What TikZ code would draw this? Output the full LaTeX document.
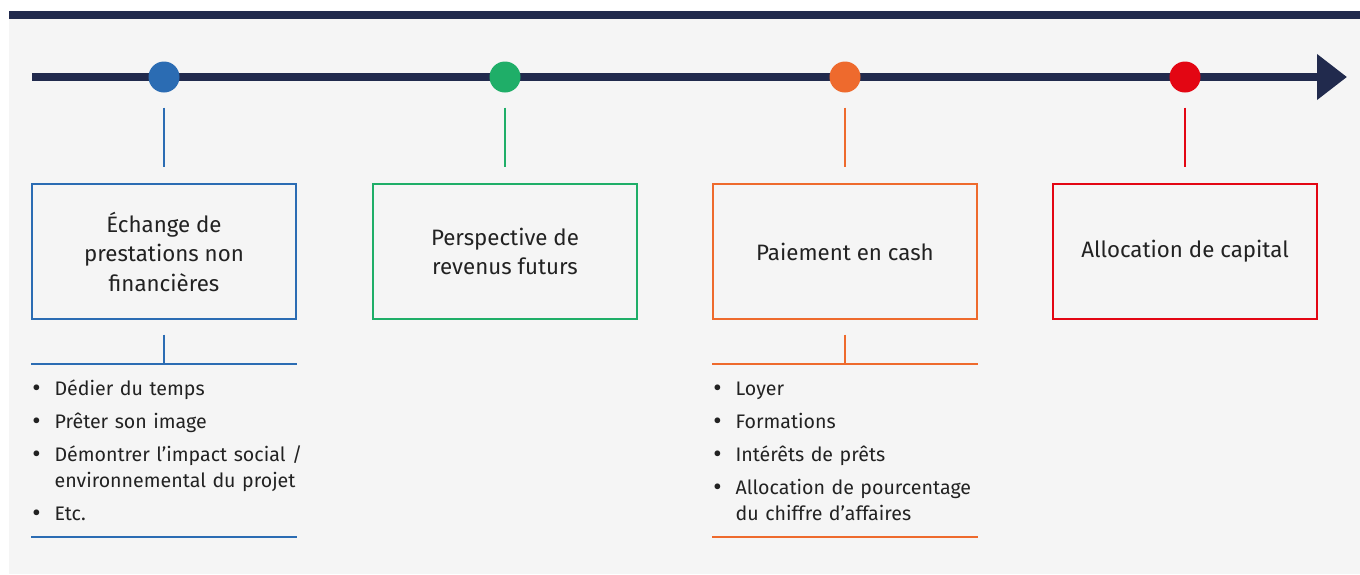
\documentclass[tikz,border=0pt]{standalone}
\usepackage{fontspec}
\setmainfont{Fira Sans}
\usetikzlibrary{positioning,arrows.meta}

\definecolor{navy}{HTML}{212A4D}
\definecolor{cblue}{HTML}{2B6CB3}
\definecolor{cgreen}{HTML}{1FAE68}
\definecolor{corange}{HTML}{EE6A2D}
\definecolor{cred}{HTML}{E30613}
\definecolor{bggray}{HTML}{F5F5F5}
\definecolor{txt}{HTML}{222222}

\newenvironment{puces}{\begin{list}{\makebox[10pt][c]{\raisebox{-1.5pt}{\scalebox{1.3}{\textbullet}}}}{%
    \setlength{\leftmargin}{23pt}\setlength{\labelwidth}{10pt}%
    \setlength{\labelsep}{13pt}\setlength{\itemsep}{7pt}%
    \setlength{\parsep}{0pt}\setlength{\topsep}{0pt}%
    \setlength{\partopsep}{0pt}}}{\end{list}}

\begin{document}
\begin{tikzpicture}[x=1pt,y=-1pt,
    etape/.style={draw=#1,line width=1.2pt,minimum width=264pt,
      minimum height=135pt,inner sep=0pt,align=center,text=txt,
      font=\fontsize{22.3}{29.5}\selectfont},
    jalon/.style={circle,fill=#1,minimum size=31pt,inner sep=0pt},
    tige/.style={draw=#1,line width=2pt},
    filet/.style={draw=#1,line width=1.5pt},
    liste/.style={anchor=north west,inner sep=0pt,text width=320pt,
      text=txt,font=\fontsize{19.6}{26}\selectfont}]

  % fond
  \useasboundingbox (0,0) rectangle (1360,574);
  \fill[bggray] (9,11) rectangle (1360,574);
  \fill[navy] (9,11) rectangle (1360,19);

  % axe du temps
  \coordinate (debut) at (32,77);
  \coordinate (fin) at (1347,77);
  \draw[navy,line width=8pt,-{Triangle[length=30pt,width=44pt]}] (debut) -- (fin);

  % jalons
  \node[jalon=cblue]   (j1) at ( 164,77) {};
  \node[jalon=cgreen]  (j2) at ( 505,77) {};
  \node[jalon=corange] (j3) at ( 845,77) {};
  \node[jalon=cred]    (j4) at (1185,77) {};

  % etapes
  \node[etape=cblue]   (b1) at ( 164,251.5) {Échange de\\prestations non\\financières};
  \node[etape=cgreen]  (b2) at ( 505,251.5) {Perspective de\\revenus futurs};
  \node[etape=corange] (b3) at ( 845,251.5) {Paiement en cash};
  \node[etape=cred]    (b4) at (1185,251.5) {Allocation de capital};

  \foreach \i/\c in {1/cblue,2/cgreen,3/corange,4/cred}
    \draw[tige=\c] ([yshift=-15pt]j\i.south) -- ([yshift=16pt]b\i.north);

  % details
  \foreach \i/\c in {1/cblue,3/corange} {
    \coordinate (h\i) at ([yshift=-44.5pt]b\i.south);
    \draw[tige=\c] ([yshift=-15pt]b\i.south) -- (h\i);
    \draw[filet=\c] (h\i -| b\i.west) -- (h\i -| b\i.east);
    \draw[filet=\c] ([yshift=-173pt]h\i -| b\i.west) -- ([yshift=-173pt]h\i -| b\i.east);
  }

  \node[liste] (l1) at ([yshift=-5pt]h1 -| b1.west) {\begin{puces}
      \item Dédier du temps
      \item Prêter son image
      \item Démontrer l’impact social /\newline environnemental du projet
      \item Etc.
    \end{puces}};
  \node[liste] (l3) at ([yshift=-5pt]h3 -| b3.west) {\begin{puces}
      \item Loyer
      \item Formations
      \item Intérêts de prêts
      \item Allocation de pourcentage\newline du chiffre d’affaires
    \end{puces}};
\end{tikzpicture}
\end{document}
